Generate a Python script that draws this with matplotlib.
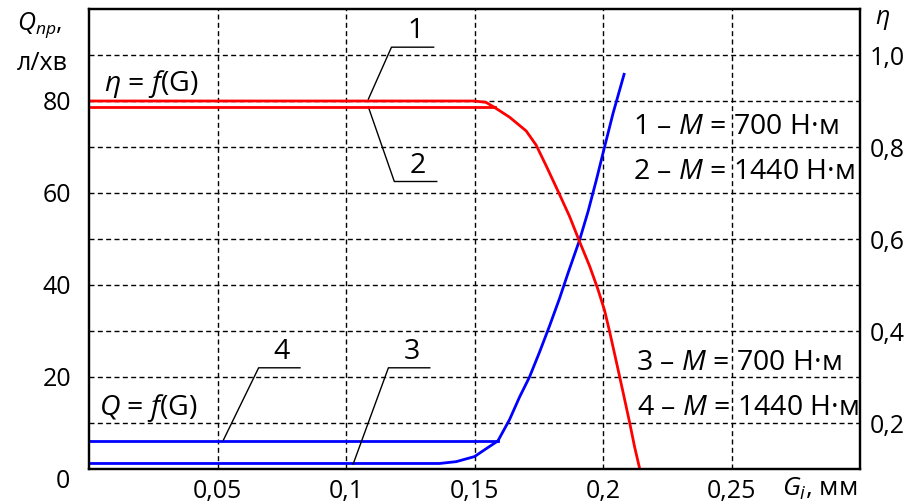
import matplotlib
matplotlib.use("Agg")
import matplotlib.pyplot as plt

plt.rcParams['font.family'] = ['Open Sans', 'DejaVu Sans']
plt.rcParams['mathtext.fontset'] = 'custom'
plt.rcParams['mathtext.rm'] = 'Open Sans'
plt.rcParams['mathtext.it'] = 'Open Sans:italic'

# ---- data ----
# efficiency eta = f(G), right axis
eta1_x = [0.0, 0.150, 0.1545, 0.1578]
eta1_y = [0.900, 0.900, 0.897, 0.886]
eta2_x = [0.0, 0.1578]
eta2_y = [0.886, 0.886]
eta_tail_x = [0.1578, 0.1636, 0.1701, 0.1740, 0.1779, 0.1825, 0.1870, 0.1909, 0.1948,
              0.1980, 0.2006, 0.2026, 0.2052, 0.2078, 0.2104, 0.2123, 0.2143]
eta_tail_y = [0.886, 0.865, 0.835, 0.804, 0.759, 0.704, 0.649, 0.594, 0.541,
              0.491, 0.445, 0.398, 0.333, 0.267, 0.200, 0.148, 0.100]

# flow Q = f(G), left axis
q3_x = [0.0, 0.1364, 0.1429, 0.1500, 0.1545, 0.1591]
q3_y = [1.2, 1.2, 1.6, 2.7, 4.4, 6.1]
q4_x = [0.0, 0.1591]
q4_y = [6.1, 6.1]
q_tail_x = [0.1591, 0.1636, 0.1675, 0.1714, 0.1753, 0.1792, 0.1831, 0.1864, 0.1909,
            0.1942, 0.1974, 0.2006, 0.2039, 0.2082]
q_tail_y = [6.1, 10.7, 15.6, 20.0, 25.4, 31.1, 37.1, 42.6, 49.8,
            56.0, 62.8, 70.0, 77.3, 85.8]

x_ticks = [0.05, 0.10, 0.15, 0.20, 0.25]
x_labels = ['0,05', '0,1', '0,15', '0,2', '0,25']
q_ticks = [10, 20, 30, 40, 50, 60, 70, 80, 90]
q_labels = ['', '20', '', '40', '', '60', '', '80', '']
eta_ticks = [0.2, 0.4, 0.6, 0.8, 1.0]
eta_labels = ['0,2', '0,4', '0,6', '0,8', '1,0']

RED = '#ff0000'
BLUE = '#0000ff'
FS = 18     # tick labels
FA = 20.5   # annotations

fig = plt.figure(figsize=(9.09, 5.04), dpi=100)
ax = fig.add_axes([89/909, 1-469/504, (860-89)/909, (469-9)/504])
ax2 = ax.twinx()

ax.set_xlim(0, 0.30)
ax.set_ylim(0, 100)
ax2.set_ylim(0.1, 1.1)

ax.set_xticks(x_ticks)
ax.set_xticklabels(x_labels, fontsize=FS)
ax.set_yticks(q_ticks)
ax.set_yticklabels(q_labels, fontsize=FS)
ax2.set_yticks(eta_ticks)
ax2.set_yticklabels(eta_labels, fontsize=FS)
ax.tick_params(axis='x', length=0, pad=7)
ax.tick_params(axis='y', length=0, pad=13)
ax2.tick_params(axis='y', length=0, pad=7)

ax.grid(True, color='black', linestyle=(0, (3.6, 2.4)), linewidth=1.0)
ax.set_axisbelow(True)
for sp in ax.spines.values():
    sp.set_linewidth(1.6)
for sp in ax2.spines.values():
    sp.set_linewidth(1.6)

LW = 2.0
ax.plot(q3_x, q3_y, color=BLUE, lw=LW, solid_joinstyle='round')
ax.plot(q4_x, q4_y, color=BLUE, lw=LW)
ax.plot(q_tail_x, q_tail_y, color=BLUE, lw=LW, solid_joinstyle='round')
ax2.plot(eta1_x, eta1_y, color=RED, lw=LW, solid_joinstyle='round')
ax2.plot(eta2_x, eta2_y, color=RED, lw=LW)
ax2.plot(eta_tail_x, eta_tail_y, color=RED, lw=LW, solid_joinstyle='round')

# leader lines with numbers
leaders = [
    ('1', [0.1087, 0.1177, 0.1341], [80.4, 91.7, 91.7]),
    ('2', [0.1087, 0.1188, 0.1353], [78.7, 62.5, 62.5]),
    ('4', [0.0523, 0.0660, 0.0821], [6.3, 22.0, 22.0]),
    ('3', [0.1028, 0.1165, 0.1326], [1.1, 22.0, 22.0]),
]
for lab, lx, ly in leaders:
    ax.plot(lx, ly, color='black', lw=1.0, zorder=5)
    ax.text((lx[1] + lx[2]) / 2 + 0.001, ly[1] + 0.4, lab, fontsize=FA,
            ha='center', va='bottom', zorder=6)

ax.text(0.006, 83.7, r'$\eta$ = $f$(G)', fontsize=FA, ha='left', va='center')
ax.text(0.004, 13.3, r'$Q$ = $f$(G)', fontsize=FA, ha='left', va='center')
ax.text(0.2115, 74.3, r'1 – $M$ = 700 Н·м', fontsize=FA, ha='left', va='center')
ax.text(0.2115, 64.5, r'2 – $M$ = 1440 Н·м', fontsize=FA, ha='left', va='center')
ax.text(0.2127, 23.1, r'3 – $M$ = 700 Н·м', fontsize=FA, ha='left', va='center')
ax.text(0.2133, 13.3, r'4 – $M$ = 1440 Н·м', fontsize=FA, ha='left', va='center')

# axis captions
fig.text(40/909, 1-25/504, r'$Q_{пр}$,', fontsize=FS, ha='center', va='center')
fig.text(42/909, 1-64/504, 'л/хв', fontsize=FS, ha='center', va='center')
fig.text(882/909, 1-20/504, r'$\eta$', fontsize=FS, ha='center', va='center')
fig.text(63/909, 1-482/504, '0', fontsize=FS, ha='center', va='center')
fig.text(820/909, 1-489/504, r'$G_i$, мм', fontsize=FS + 1, ha='center', va='center')

fig.savefig('out.png', dpi=100)
